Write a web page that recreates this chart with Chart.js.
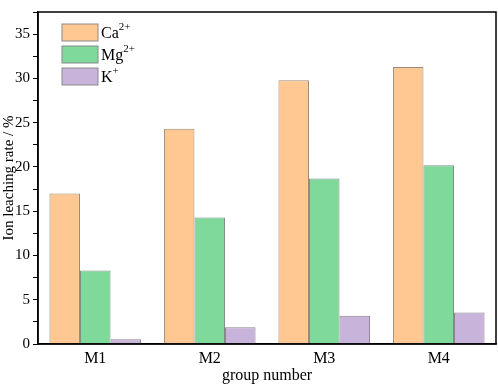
<!DOCTYPE html>
<html>
<head>
<meta charset="utf-8">
<script src="https://cdn.jsdelivr.net/npm/chart.js@4"></script>
<style>
  html, body { margin: 0; padding: 0; background: #fff; }
  #wrap { width: 498px; height: 385px; }
</style>
</head>
<body>
<div id="wrap"><canvas id="myChart" width="498" height="385"></canvas></div>
<script>
const groups = ['M1', 'M2', 'M3', 'M4'];
const ca = [17.0, 24.3, 29.8, 31.3];
const mg = [8.3, 14.3, 18.7, 20.2];
const k = [0.55, 1.9, 3.2, 3.55];
const ionNames = [['Ca', '2+'], ['Mg', '2+'], ['K', '+']];

const fills = ['#FFC892', '#7FD99B', '#C8B3DA'];
const FONT = '"Liberation Serif", "Times New Roman", serif';

// box around the plot + legend with superscripts
const framePlugin = {
  id: 'frame',
  afterDraw(chart) {
    const c = chart.ctx, a = chart.chartArea;
    c.save();
    c.strokeStyle = '#000';
    c.lineWidth = 1.5;
    c.strokeRect(a.left, a.top, a.right - a.left, a.bottom - a.top);

    let y = a.top + 12;
    ionNames.forEach(function(n, i) {
      c.fillStyle = fills[i];
      c.fillRect(a.left + 24, y, 36, 17);
      c.strokeStyle = '#8a8a8a';
      c.lineWidth = 1;
      c.strokeRect(a.left + 24, y, 36, 17);
      c.fillStyle = '#000';
      c.textBaseline = 'middle';
      c.font = '16px ' + FONT;
      c.fillText(n[0], a.left + 63, y + 10);
      const w = c.measureText(n[0]).width;
      c.font = '11px ' + FONT;
      c.fillText(n[1], a.left + 63 + w, y + 3);
      y += 22;
    });
    c.restore();
  }
};

const ctx = document.getElementById('myChart');

new Chart(ctx, {
  type: 'bar',
  data: {
    labels: groups,
    datasets: [
      { label: 'Ca2+', data: ca, backgroundColor: fills[0], borderColor: '#9c8a7c', borderWidth: 1 },
      { label: 'Mg2+', data: mg, backgroundColor: fills[1], borderColor: '#7f8f84', borderWidth: 1 },
      { label: 'K+', data: k, backgroundColor: fills[2], borderColor: '#8a8290', borderWidth: 1 }
    ]
  },
  options: {
    responsive: false,
    animation: false,
    layout: { padding: { top: 1, right: 2, left: 0, bottom: 0 } },
    datasets: { bar: { categoryPercentage: 0.8, barPercentage: 1 } },
    plugins: { legend: { display: false }, tooltip: { enabled: false } },
    scales: {
      x: {
        grid: { display: false, drawTicks: false },
        border: { display: true, color: '#000', width: 1.5 },
        ticks: { color: '#000', font: { family: FONT, size: 16 }, padding: 5 },
        title: { display: true, text: 'group number', color: '#000', font: { family: FONT, size: 16 }, padding: { top: 0, bottom: 0 } },
        afterFit(s) { s.height = 41; }
      },
      y: {
        min: 0,
        max: 37.5,
        ticks: {
          stepSize: 2.5,
          color: '#000',
          font: { family: FONT, size: 15 },
          padding: 3,
          callback: function(v) { return v % 5 === 0 ? v : ''; }
        },
        grid: {
          drawOnChartArea: false,
          drawTicks: true,
          tickLength: 5,
          color: '#000'
        },
        border: { display: true, color: '#000', width: 1.5 },
        title: { display: true, text: 'Ion leaching rate / %', color: '#000', font: { family: FONT, size: 15 }, padding: { top: 0, bottom: 0 } },
        afterFit(s) { s.width = 38; }
      }
    }
  },
  plugins: [framePlugin]
});
</script>
</body>
</html>
